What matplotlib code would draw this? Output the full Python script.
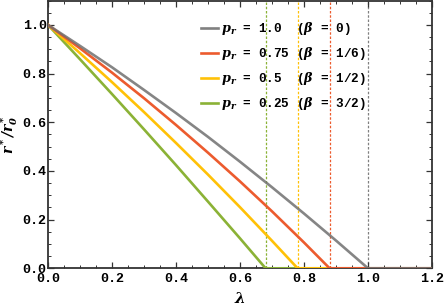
import numpy as np
import matplotlib
matplotlib.use('Agg')
import matplotlib.pyplot as plt
from matplotlib.ticker import MultipleLocator

#===============================
# values (lambda, r*/r0*)
lam_g = [0.0, 0.1, 0.2, 0.3, 0.4, 0.5, 0.6, 0.7, 0.8, 0.9, 1.0, 1.2]
r_g = [1.0, 0.914, 0.826, 0.733, 0.638, 0.540, 0.438, 0.333, 0.225, 0.114, 0.0, 0.0]

lam_o = [0.0, 0.1, 0.2, 0.3, 0.4, 0.5, 0.6, 0.7, 0.8, 0.88, 1.2]
r_o = [1.0, 0.904, 0.804, 0.699, 0.589, 0.475, 0.357, 0.234, 0.106, 0.0, 0.0]

lam_y = [0.0, 0.1, 0.2, 0.3, 0.4, 0.5, 0.6, 0.7, 0.78, 1.2]
r_y = [1.0, 0.884, 0.765, 0.642, 0.515, 0.385, 0.251, 0.113, 0.0, 0.0]

lam_gr = [0.0, 0.1, 0.2, 0.3, 0.4, 0.5, 0.6, 0.68, 1.2]
r_gr = [1.0, 0.859, 0.716, 0.571, 0.424, 0.274, 0.123, 0.0, 0.0]

lam_c = [1.0, 0.88, 0.78, 0.68]   # critical lambda, dotted lines
labels = [r"$\mathbfit{p_r}$ = 1.0  ($\beta$ = 0)",
          r"$\mathbfit{p_r}$ = 0.75 ($\beta$ = 1/6)",
          r"$\mathbfit{p_r}$ = 0.5  ($\beta$ = 1/2)",
          r"$\mathbfit{p_r}$ = 0.25 ($\beta$ = 3/2)"]
colors = ['#808080', '#EC5B2E', '#FFC107', '#8BB236']

#==================================
def DrawFig():
  plt.rcParams['font.family'] = ['Liberation Mono', 'DejaVu Sans']
  plt.rcParams['font.weight'] = 'bold'
  plt.rcParams['mathtext.fontset'] = 'dejavuserif'

  fig = plt.figure(figsize=(4.47, 3.06), dpi=100)
  ax = fig.add_axes([48/447., 1 - 268.3/306., (432 - 48)/447., 268.3/306. - 0.002])

  data = [(lam_g, r_g), (lam_o, r_o), (lam_y, r_y), (lam_gr, r_gr)]
  # dotted lines at the critical points
  for c, col in zip(lam_c, colors):
    ax.axvline(c, color=col, lw=0.9, ls=(0, (2, 1.4)), zorder=1)

  # draw green first so the later ones sit on top along the axis
  for i in [3, 2, 1, 0]:
    x, y = data[i]
    if i == 0:
      ax.plot(x, y, color='#707070', lw=1.9, alpha=0.85, zorder=3)
    else:
      ax.plot(x, y, color=colors[i], lw=1.9, zorder=3)
  leg_h = [plt.Line2D([], [], color=c, lw=1.9) for c in colors]
  ax.legend(leg_h, labels, loc='upper left', bbox_to_anchor=(0.385, 0.945),
            frameon=False, fontsize=9.2, handlelength=1.3, handletextpad=0.25,
            labelspacing=0.62, borderaxespad=0.)

  ax.set_xlim(0, 1.2)
  ax.set_ylim(0, 1.1)
  ax.xaxis.set_major_locator(MultipleLocator(0.2))
  ax.xaxis.set_minor_locator(MultipleLocator(0.05))
  ax.yaxis.set_major_locator(MultipleLocator(0.2))
  ax.yaxis.set_minor_locator(MultipleLocator(0.05))
  ax.tick_params(which='both', direction='in', top=True, right=True,
                 labelsize=9.6, color='#333333')
  ax.tick_params(which='major', length=4, width=0.9)
  ax.tick_params(which='minor', length=2.2, width=0.7)
  ax.tick_params(axis='y', pad=1)
  ax.tick_params(axis='x', pad=3.5)
  for s in ax.spines.values():
    s.set_color('#333333')
    s.set_linewidth(1.3)
  for t in ax.get_xticklabels() + ax.get_yticklabels():
    t.set_fontweight('bold')

  ax.set_xlabel(r'$\lambda$', fontsize=11, labelpad=4)
  ax.set_ylabel(r'$\mathbfit{r^*/r_0^*}$', fontsize=10, labelpad=2)
  plt.savefig('out.png', dpi=100)
  return

#==================================
def main():
  DrawFig()
  return

if __name__ == '__main__':
  main()
